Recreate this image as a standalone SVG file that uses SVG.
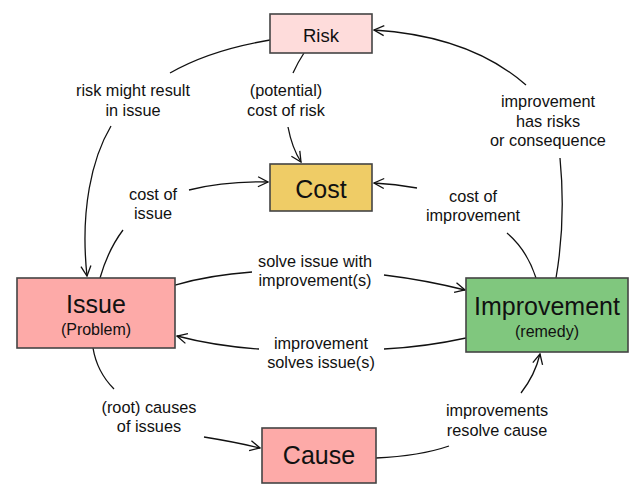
<svg xmlns="http://www.w3.org/2000/svg" width="644" height="499" viewBox="0 0 644 499">
<defs>
<marker id="arr" viewBox="-11 -6 12 12" markerWidth="12" markerHeight="12" refX="0" refY="0" orient="auto" markerUnits="userSpaceOnUse">
<path d="M-10,-5 L0,0 L-10,5" fill="none" stroke="#111" stroke-width="1.3"/>
</marker>
</defs>
<style>
.box{stroke:#444;stroke-width:1.6}
.t{font-family:"Liberation Sans",Arial,sans-serif;fill:#111;text-anchor:middle}
.title{font-size:25px}
.sub{font-size:16px}
.lbl{font-family:"Liberation Sans",Arial,sans-serif;font-size:16.3px;fill:#111;text-anchor:middle}
.c{fill:none;stroke:#111;stroke-width:1.3}
</style>
<rect width="644" height="499" fill="#fff"/>
<g id="connectors">
<path class="c" d="M270,40 Q210,50 170,73"/>
<path class="c" d="M111,126 C92,158 80,210 87,276" marker-end="url(#arr)"/>
<path class="c" d="M304,53 Q298,62 293,73"/>
<path class="c" d="M288,127 Q292,148 301,162" marker-end="url(#arr)"/>
<path class="c" d="M100,278 Q108,250 123,230"/>
<path class="c" d="M189,190 Q225,181 268,182" marker-end="url(#arr)"/>
<path class="c" d="M536,278 Q527,250 507,233"/>
<path class="c" d="M417,188 Q395,184 374,183" marker-end="url(#arr)"/>
<path class="c" d="M556,278 Q566,220 560,158"/>
<path class="c" d="M526,85 Q470,36 374,30" marker-end="url(#arr)"/>
<path class="c" d="M175,285 Q210,275 252,272"/>
<path class="c" d="M384,275 Q425,280 465,290" marker-end="url(#arr)"/>
<path class="c" d="M466,338 Q425,347 384,349"/>
<path class="c" d="M259,349 Q215,346 177,336" marker-end="url(#arr)"/>
<path class="c" d="M93,348 Q97,372 114,389"/>
<path class="c" d="M204,437 Q235,442 260,448" marker-end="url(#arr)"/>
<path class="c" d="M376,458 Q420,456 449,446"/>
<path class="c" d="M521,393 Q535,375 540,354" marker-end="url(#arr)"/>
<text class="lbl" x="133" y="96">risk might result</text>
<text class="lbl" x="133" y="116">in issue</text>
<text class="lbl" x="286" y="96">(potential)</text>
<text class="lbl" x="286" y="116">cost of risk</text>
<text class="lbl" x="153" y="200">cost of</text>
<text class="lbl" x="153" y="219">issue</text>
<text class="lbl" x="548" y="107">improvement</text>
<text class="lbl" x="548" y="127">has risks</text>
<text class="lbl" x="548" y="146">or consequence</text>
<text class="lbl" x="473" y="202">cost of</text>
<text class="lbl" x="473" y="221">improvement</text>
<text class="lbl" x="315" y="267">solve issue with</text>
<text class="lbl" x="315" y="286">improvement(s)</text>
<text class="lbl" x="321" y="349">improvement</text>
<text class="lbl" x="321" y="368">solves issue(s)</text>
<text class="lbl" x="149" y="413">(root) causes</text>
<text class="lbl" x="149" y="432">of issues</text>
<text class="lbl" x="497" y="416">improvements</text>
<text class="lbl" x="497" y="436">resolve cause</text>
</g>
<g id="risk">
<rect class="box" x="270" y="14" width="102" height="39" fill="#fedcdb"/>
<text class="t" x="321" y="42" font-size="18.5">Risk</text>
</g>
<g id="cost">
<rect class="box" x="270" y="164" width="102" height="47" fill="#efcc66"/>
<text class="t title" x="321" y="197.5">Cost</text>
</g>
<g id="issue">
<rect class="box" x="17" y="278" width="158" height="70" fill="#fdaaa8"/>
<text class="t title" x="96" y="313">Issue</text>
<text class="t sub" x="96" y="335">(Problem)</text>
</g>
<g id="improvement">
<rect class="box" x="466" y="278" width="162" height="74" fill="#80c77e"/>
<text class="t title" x="547" y="315">Improvement</text>
<text class="t sub" x="547" y="337">(remedy)</text>
</g>
<g id="cause">
<rect class="box" x="262" y="428" width="114" height="55" fill="#fdaaa8"/>
<text class="t title" x="319" y="464">Cause</text>
</g>
</svg>
